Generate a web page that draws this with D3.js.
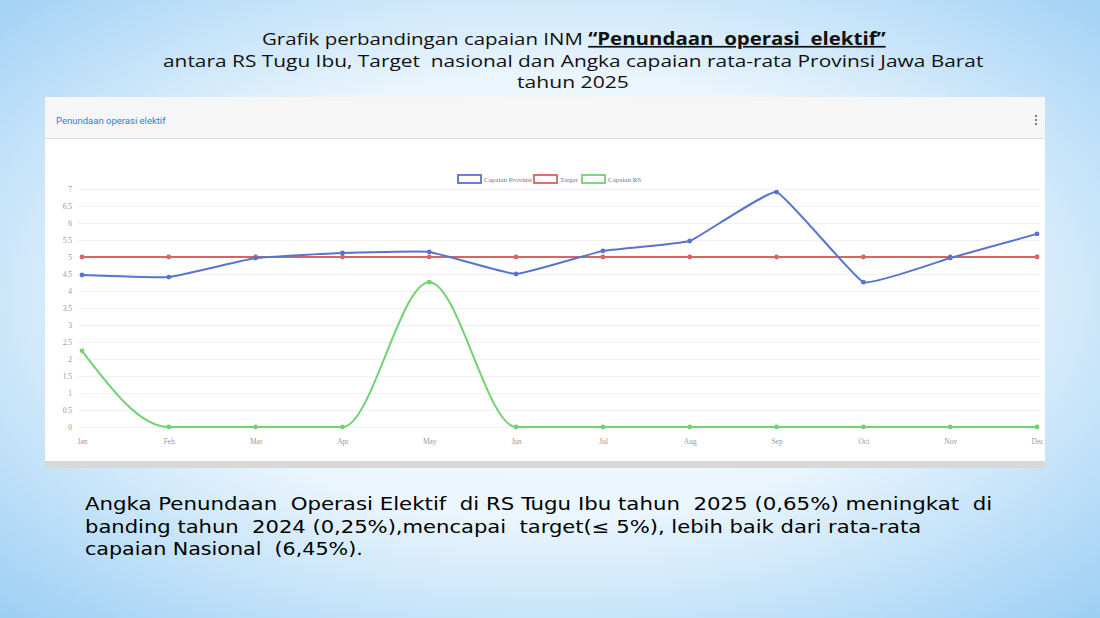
<!DOCTYPE html>
<html lang="id">
<head>
<meta charset="UTF-8">
<title>Penundaan operasi elektif</title>
<script src="https://d3js.org/d3.v7.min.js"></script>
<style>
    body { margin: 0; padding: 0; overflow: hidden; }
    svg { display: block; }
</style>
</head>
<body>
<script>
    // data
    let months = ["Jan", "Feb", "Mar", "Apr", "May", "Jun", "Jul", "Aug", "Sep", "Oct", "Nov", "Dec"];
    let capaianProvinsi = [4.47, 4.41, 4.97, 5.12, 5.15, 4.5, 5.18, 5.47, 6.91, 4.26, 4.97, 5.68];
    let target = [5, 5, 5, 5, 5, 5, 5, 5, 5, 5, 5, 5];
    let capaianRS = [2.24, 0, 0, 0, 4.26, 0, 0, 0, 0, 0, 0, 0];
    let yTicks = [0, 0.5, 1, 1.5, 2, 2.5, 3, 3.5, 4, 4.5, 5, 5.5, 6, 6.5, 7];
    let seriesNames = ["Capaian Provinsi", "Target", "Capaian RS"];
    let seriesColors = ["#5874cc", "#d86464", "#72d272"];

    let W = 1100, H = 618;
    let svg = d3.select("body").append("svg").attr("width", W).attr("height", H);

    // the slide is stretched sideways: widen a text so it spans the wanted width
    function placeText(parent, x, y, width) {
        let g = parent.append("g");
        let t = g.append("text").attr("x", 0).attr("y", 0).attr("xml:space", "preserve");
        return {
            text: t,
            fit: function () {
                let s = width / t.node().getComputedTextLength();
                g.attr("transform", "translate(" + x + "," + y + ") scale(" + s.toFixed(4) + ",1)");
            }
        };
    }

    let defs = svg.append("defs");
    let grad = defs.append("radialGradient").attr("id", "bg")
        .attr("cx", "50%").attr("cy", "48%").attr("r", "72%");
    grad.append("stop").attr("offset", "0%").attr("stop-color", "#ffffff");
    grad.append("stop").attr("offset", "50%").attr("stop-color", "#eaf5fd");
    grad.append("stop").attr("offset", "100%").attr("stop-color", "#9ccff4");
    svg.append("rect").attr("width", W).attr("height", H).attr("fill", "url(#bg)");

    // slide title
    let title = svg.append("g").attr("font-family", "'Open Sans', sans-serif").attr("font-size", 17)
        .attr("fill", "#111");
    let t1 = placeText(title, 262, 45, 624);
    t1.text.append("tspan").text("Grafik perbandingan capaian INM ");
    t1.text.append("tspan").attr("font-weight", "bold").attr("text-decoration", "underline")
        .text("\u201CPenundaan  operasi  elektif\u201D");
    t1.fit();
    let t2 = placeText(title, 163, 67, 821);
    t2.text.text("antara RS Tugu Ibu, Target  nasional dan Angka capaian rata-rata Provinsi Jawa Barat");
    t2.fit();
    let t3 = placeText(title, 517, 88, 112);
    t3.text.text("tahun 2025");
    t3.fit();

    // card
    let card = svg.append("g");
    card.append("rect").attr("x", 45).attr("y", 460).attr("width", 1000).attr("height", 8).attr("fill", "#d8d8d8");
    card.append("rect").attr("x", 45).attr("y", 97).attr("width", 1000).attr("height", 364).attr("fill", "#ffffff");
    card.append("rect").attr("x", 45).attr("y", 97).attr("width", 1000).attr("height", 41).attr("fill", "#f6f6f6");
    card.append("line").attr("x1", 45).attr("x2", 1045).attr("y1", 138.5).attr("y2", 138.5)
        .attr("stroke", "#dcdcdc");
    card.append("text").attr("x", 56).attr("y", 124)
        .attr("font-family", "Roboto, sans-serif").attr("font-size", 9.5).attr("fill", "#2f7fd8")
        .text("Penundaan operasi elektif");
    [116, 120, 124].forEach(function (cy) {
        card.append("circle").attr("cx", 1036).attr("cy", cy).attr("r", 1).attr("fill", "#555");
    });

    // scales
    let x = d3.scalePoint().domain(months).range([82, 1037]);
    let y = d3.scaleLinear().domain([0, 7]).range([427, 189]);

    let plot = svg.append("g");

    plot.append("g").selectAll("line").data(yTicks).enter().append("line")
        .attr("x1", 78).attr("x2", 1040)
        .attr("y1", function (d) { return y(d) + 0.5; })
        .attr("y2", function (d) { return y(d) + 0.5; })
        .attr("stroke", "#f1f1f1");

    let yAxis = plot.append("g").attr("transform", "translate(72,0)")
        .call(d3.axisLeft(y).tickValues(yTicks).tickSize(0).tickPadding(0)
            .tickFormat(function (d) { return String(d); }));
    yAxis.select(".domain").remove();
    yAxis.selectAll("text").attr("font-family", "'Liberation Serif', serif").attr("font-size", 7.5)
        .attr("fill", "#999");

    let xAxis = plot.append("g").attr("transform", "translate(0,433)")
        .call(d3.axisBottom(x).tickSize(0).tickPadding(6));
    xAxis.select(".domain").remove();
    xAxis.selectAll("text").attr("font-family", "'Liberation Serif', serif").attr("font-size", 7.5)
        .attr("fill", "#999");

    let curves = [d3.curveCardinal.tension(0.7), d3.curveLinear, d3.curveMonotoneX];
    let allSeries = [capaianProvinsi, target, capaianRS];
    // draw in reverse so blue sits on top
    [2, 1, 0].forEach(function (k) {
        let vals = allSeries[k];
        let line = d3.line()
            .x(function (d, i) { return x(months[i]); })
            .y(function (d) { return y(d); })
            .curve(curves[k]);
        plot.append("path").attr("d", line(vals)).attr("fill", "none")
            .attr("stroke", seriesColors[k]).attr("stroke-width", 2);
        plot.append("g").selectAll("circle").data(vals).enter().append("circle")
            .attr("cx", function (d, i) { return x(months[i]); })
            .attr("cy", function (d) { return y(d); })
            .attr("r", 2.4).attr("fill", seriesColors[k]);
    });

    // legend
    let legendX = [458, 534, 582];
    let legend = svg.append("g");
    seriesNames.forEach(function (name, k) {
        legend.append("rect").attr("x", legendX[k]).attr("y", 175).attr("width", 23).attr("height", 8)
            .attr("fill", "#fff").attr("stroke", seriesColors[k]).attr("stroke-width", 1.8);
        legend.append("text").attr("x", legendX[k] + 26).attr("y", 182)
            .attr("font-family", "'Liberation Serif', serif").attr("font-size", 7).attr("fill", "#777")
            .text(name);
    });

    // bottom note
    let note = svg.append("g").attr("font-family", "'DejaVu Sans Condensed', 'DejaVu Sans', sans-serif")
        .attr("font-size", 17).attr("fill", "#000");
    let noteLines = [
        "Angka Penundaan  Operasi Elektif  di RS Tugu Ibu tahun  2025 (0,65%) meningkat  di",
        "banding tahun  2024 (0,25%),mencapai  target(\u2264 5%), lebih baik dari rata-rata",
        "capaian Nasional  (6,45%)."
    ];
    let noteWidths = [908, 837, 278];
    noteLines.forEach(function (s, i) {
        let t = placeText(note, 85, 510 + i * 22.5, noteWidths[i]);
        t.text.text(s);
        t.fit();
    });
</script>
</body>
</html>
